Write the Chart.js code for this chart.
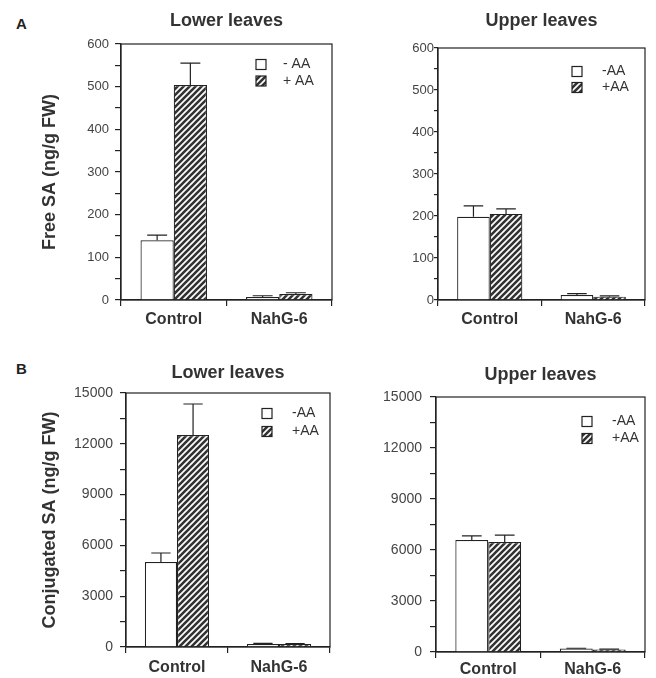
<!DOCTYPE html>
<html>
<head>
<meta charset="utf-8">
<script src="https://cdn.jsdelivr.net/npm/chart.js@4.4.0/dist/chart.umd.min.js"></script>
<style>
  html, body { margin: 0; padding: 0; background: #fff; }
  #wrap { position: relative; width: 656px; height: 678px; overflow: hidden; font-family: "Liberation Sans", Arial, sans-serif; }
  canvas { position: absolute; }
  .letter { position: absolute; font-weight: bold; font-size: 15px; line-height: 15px; color: #222; }
</style>
</head>
<body>
<div id="wrap">
  <div class="letter" style="left:16px;top:16px">A</div>
  <div class="letter" style="left:16px;top:361px">B</div>
  <canvas id="freeLower" width="340" height="340" style="left:0;top:0"></canvas>
  <canvas id="freeUpper" width="326" height="340" style="left:330px;top:0"></canvas>
  <canvas id="conjLower" width="340" height="338" style="left:0;top:340px"></canvas>
  <canvas id="conjUpper" width="326" height="338" style="left:330px;top:340px"></canvas>
</div>
<script>
// data
const categories = ['Control', 'NahG-6'];
const seriesNamesSpaced = ['- AA', '+ AA'];
const seriesNames = ['-AA', '+AA'];

const freeTicks = [0, 100, 200, 300, 400, 500, 600];
const conjTicks = [0, 3000, 6000, 9000, 12000, 15000];

// free SA, lower leaves
const freeLowerMinus = [140, 7];
const freeLowerMinusErr = [12, 3];
const freeLowerPlus = [504, 14];
const freeLowerPlusErr = [51, 3];
// free SA, upper leaves
const freeUpperMinus = [198, 12];
const freeUpperMinusErr = [26, 3];
const freeUpperPlus = [205, 8];
const freeUpperPlusErr = [12, 2];
// conjugated SA, lower leaves
const conjLowerMinus = [5020, 180];
const conjLowerMinusErr = [530, 30];
const conjLowerPlus = [12520, 170];
const conjLowerPlusErr = [1830, 30];
// conjugated SA, upper leaves
const conjUpperMinus = [6590, 200];
const conjUpperMinusErr = [240, 20];
const conjUpperPlus = [6470, 150];
const conjUpperPlusErr = [410, 20];

Chart.defaults.font.family = '"Liberation Sans", Arial, Helvetica, sans-serif';
Chart.defaults.color = '#333';

const INK = '#222';

// diagonal hatching for +AA
function makeHatch() {
  const c = document.createElement('canvas');
  c.width = 6; c.height = 6;
  const g = c.getContext('2d');
  g.fillStyle = '#fff';
  g.fillRect(0, 0, 6, 6);
  g.strokeStyle = '#333';
  g.lineWidth = 2.6;
  g.beginPath();
  g.moveTo(-1, 7); g.lineTo(7, -1);
  g.moveTo(-4, 4); g.lineTo(4, -4);
  g.moveTo(2, 10); g.lineTo(10, 2);
  g.stroke();
  return g.createPattern(c, 'repeat');
}
const hatch = makeHatch();

// T-shaped error bars (upper half only)
const errorBars = {
  id: 'errorBars',
  afterDatasetsDraw(chart) {
    const ctx = chart.ctx, y = chart.scales.y;
    ctx.save();
    ctx.strokeStyle = INK;
    ctx.lineWidth = 1.2;
    chart.data.datasets.forEach((ds, i) => {
      chart.getDatasetMeta(i).data.forEach((bar, j) => {
        const top = y.getPixelForValue(ds.data[j] + ds.errors[j]);
        const half = bar.width * 0.3;
        ctx.beginPath();
        ctx.moveTo(bar.x, bar.y);
        ctx.lineTo(bar.x, top);
        ctx.moveTo(bar.x - half, top);
        ctx.lineTo(bar.x + half, top);
        ctx.stroke();
      });
    });
    ctx.restore();
  }
};

// closed box around plot
const frame = {
  id: 'frame',
  afterDraw(chart) {
    const a = chart.chartArea, ctx = chart.ctx;
    ctx.save();
    ctx.strokeStyle = INK;
    ctx.lineWidth = 1.2;
    ctx.strokeRect(a.left, a.top, a.right - a.left, a.bottom - a.top);
    ctx.restore();
  }
};

// small legend inside the top right corner
const boxLegend = {
  id: 'boxLegend',
  afterDraw(chart, args, o) {
    const a = chart.chartArea, ctx = chart.ctx;
    ctx.save();
    ctx.font = '14px "Liberation Sans", Arial, sans-serif';
    ctx.textBaseline = 'middle';
    chart.data.datasets.forEach((ds, i) => {
      const bx = a.right - o.dx;
      const cy = a.top + o.dy + i * o.gap;
      ctx.fillStyle = ds.backgroundColor;
      ctx.fillRect(bx, cy - 5, 10, 10);
      ctx.strokeStyle = INK;
      ctx.lineWidth = 1.2;
      ctx.strokeRect(bx, cy - 5, 10, 10);
      ctx.fillStyle = '#333';
      ctx.fillText(ds.label, bx + o.textDx, cy);
    });
    ctx.restore();
  }
};

function makePanel(id, p) {
  const major = p.ticks;
  const step = (major[1] - major[0]) / 2;
  const allTicks = [];
  for (let v = 0; v <= major[major.length - 1]; v += step) allTicks.push(v);

  return new Chart(document.getElementById(id), {
    type: 'bar',
    data: {
      labels: categories,
      datasets: [
        { label: p.names[0], data: p.minus, errors: p.minusErr, backgroundColor: '#fff', borderColor: INK, borderWidth: 1.2 },
        { label: p.names[1], data: p.plus, errors: p.plusErr, backgroundColor: hatch, borderColor: INK, borderWidth: 1.2 }
      ]
    },
    options: {
      responsive: false,
      animation: false,
      events: [],
      layout: { padding: { left: 0, right: p.padRight, top: 0, bottom: 0 } },
      datasets: { bar: { categoryPercentage: 0.63, barPercentage: 1 } },
      plugins: {
        legend: { display: false },
        tooltip: { enabled: false },
        title: {
          display: true, text: p.title, fullSize: false, color: '#333',
          font: { size: 18, weight: 'bold' },
          padding: { top: p.titleTop, bottom: p.titleBottom }
        },
        boxLegend: p.legend
      },
      scales: {
        x: {
          grid: { offset: true, drawOnChartArea: false, tickLength: 6, color: INK, lineWidth: 1.2 },
          border: { color: INK, width: 1.2 },
          ticks: { font: { size: 16, weight: 'bold' }, color: '#333', padding: p.xPad },
          afterFit: s => { s.height = p.xHeight; }
        },
        y: {
          min: 0,
          max: major[major.length - 1],
          afterBuildTicks: s => { s.ticks = allTicks.map(v => ({ value: v })); },
          ticks: {
            autoSkip: false,
            callback: v => major.includes(v) ? String(v) : '',
            font: { size: p.tickSize }, color: '#444', padding: p.yPad
          },
          grid: { drawOnChartArea: false, tickLength: p.tickLen, color: INK, lineWidth: 1.2 },
          border: { color: INK, width: 1.2 },
          title: p.yTitle
            ? { display: true, text: p.yTitle, color: '#333', font: { size: 18, weight: 'bold' }, padding: { top: 39, bottom: 0 } }
            : { display: false },
          afterFit: s => { s.width = p.yWidth; }
        }
      }
    },
    plugins: [errorBars, frame, boxLegend]
  });
}

makePanel('freeLower', {
  title: 'Lower leaves', names: seriesNamesSpaced, ticks: freeTicks,
  minus: freeLowerMinus, minusErr: freeLowerMinusErr, plus: freeLowerPlus, plusErr: freeLowerPlusErr,
  yTitle: 'Free SA (ng/g FW)', yWidth: 121, padRight: 8, xHeight: 40, xPad: 4.4,
  titleTop: 10.2, titleBottom: 12.2, tickSize: 13, tickLen: 6, yPad: 6,
  legend: { dx: 76, dy: 20.5, gap: 16.5, textDx: 27 }
});
makePanel('freeUpper', {
  title: 'Upper leaves', names: seriesNames, ticks: freeTicks,
  minus: freeUpperMinus, minusErr: freeUpperMinusErr, plus: freeUpperPlus, plusErr: freeUpperPlusErr,
  yTitle: null, yWidth: 108, padRight: 11, xHeight: 40, xPad: 4.4,
  titleTop: 10.2, titleBottom: 16.2, tickSize: 13, tickLen: 4, yPad: 0,
  legend: { dx: 73, dy: 23.5, gap: 16, textDx: 30 }
});
makePanel('conjLower', {
  title: 'Lower leaves', names: seriesNames, ticks: conjTicks,
  minus: conjLowerMinus, minusErr: conjLowerMinusErr, plus: conjLowerPlus, plusErr: conjLowerPlusErr,
  yTitle: 'Conjugated SA (ng/g FW)', yWidth: 126, padRight: 10, xHeight: 31, xPad: 5.4,
  titleTop: 22.2, titleBottom: 9.2, tickSize: 14, tickLen: 6, yPad: 7,
  legend: { dx: 68, dy: 20.5, gap: 18, textDx: 30 }
});
makePanel('conjUpper', {
  title: 'Upper leaves', names: seriesNames, ticks: conjTicks,
  minus: conjUpperMinus, minusErr: conjUpperMinusErr, plus: conjUpperPlus, plusErr: conjUpperPlusErr,
  yTitle: null, yWidth: 106, padRight: 11, xHeight: 26, xPad: 2.4,
  titleTop: 24.2, titleBottom: 11.2, tickSize: 14, tickLen: 6, yPad: 8,
  legend: { dx: 63, dy: 24.5, gap: 17, textDx: 30 }
});
</script>
</body>
</html>
